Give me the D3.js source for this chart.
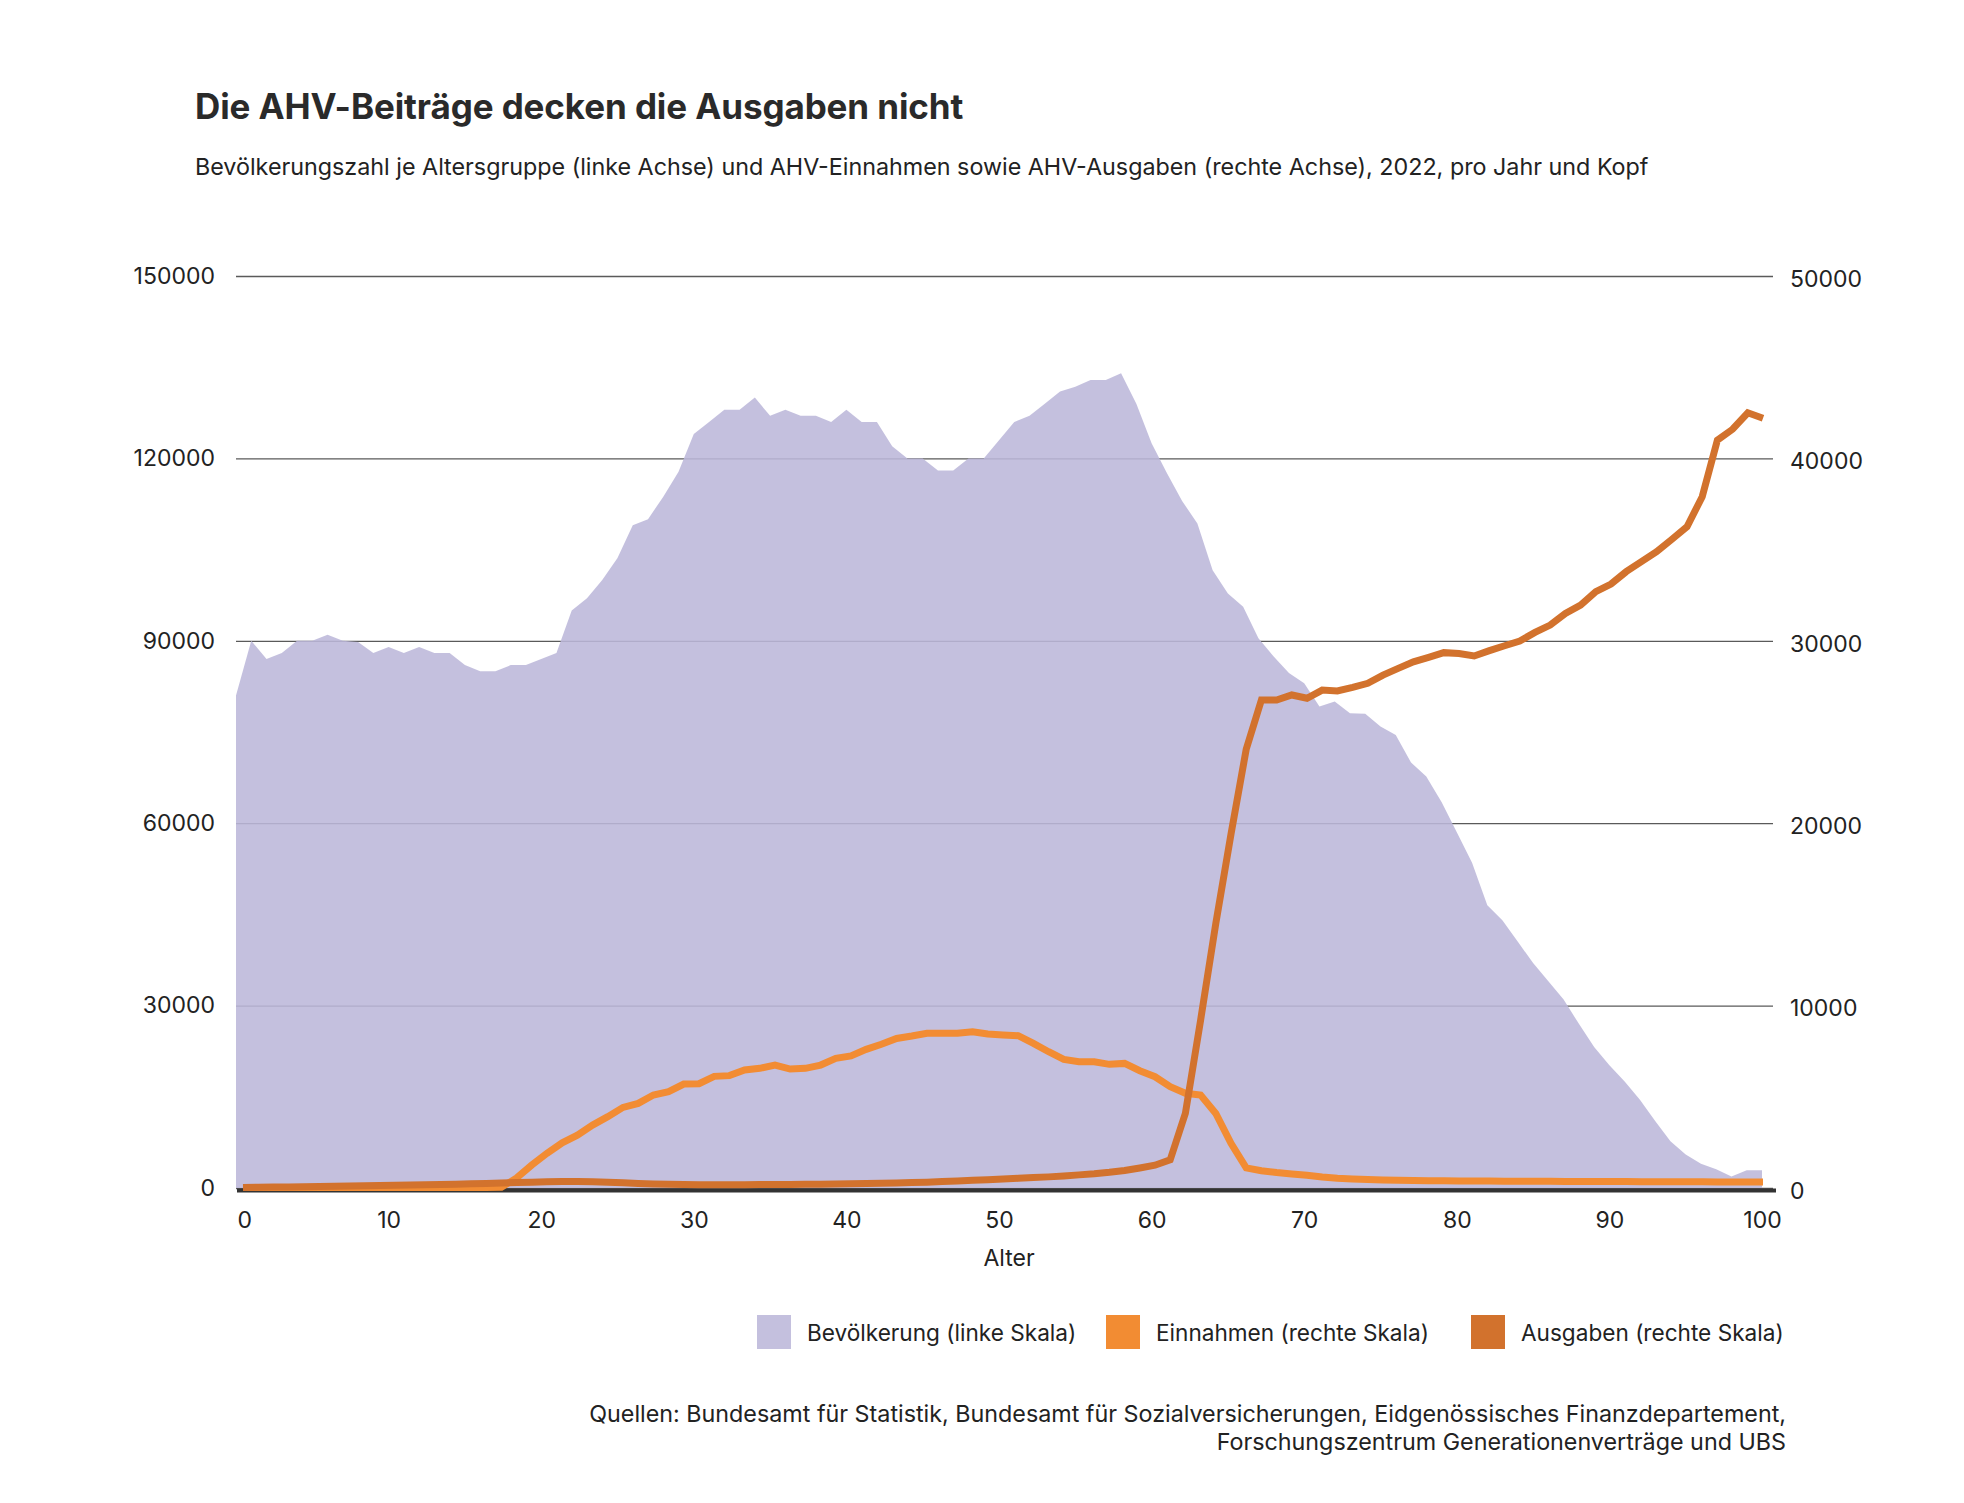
<!DOCTYPE html>
<meta charset="utf-8">
<script src="https://d3js.org/d3.v7.min.js"></script>
<style>
  body { margin: 0; background: #fff; }
  text { font-family: Inter, "Noto Sans", sans-serif; fill: #222; }
</style>
<div id="chart"></div>
<script>

// Alter 0..100
var ages = d3.range(0, 101);

// Bevölkerung je Altersjahr (linke Skala)
var bevoelkerung = [
  81000, 90000, 87000, 88000, 90000, 90000, 91000, 90000, 89800, 88000,
  89000, 88000, 89000, 88000, 88000, 86000, 85000, 85000, 86000, 86000,
  87000, 88000, 95000, 97000, 100000, 103600, 109000, 110000, 113700, 117800,
  124000, 126000, 128000, 128000, 130000, 127000, 128000, 127000, 127000, 126000,
  128000, 126000, 126000, 122000, 120000, 120000, 118000, 118000, 120000, 120000,
  123000, 126000, 127000, 129000, 131000, 131800, 132900, 132900, 134000, 129000,
  122500, 117600, 113000, 109300, 101600, 97800, 95600, 90400, 87400, 84700,
  83000, 79200, 80000, 78100, 78000, 75900, 74500, 70000, 67700, 63500,
  58500, 53500, 46500, 44000, 40500, 37000, 34000, 31000, 27000, 23200,
  20200, 17500, 14500, 11000, 7700, 5500, 4000, 3100, 1900, 2900,
  2900
];

// AHV-Einnahmen pro Kopf (rechte Skala)
var einnahmen = [
  30, 30, 30, 30, 30, 30, 30, 30, 30, 30,
  30, 30, 30, 30, 30, 30, 30, 40, 550, 1260,
  1900, 2480, 2900, 3450, 3910, 4420, 4640, 5100, 5280, 5700,
  5720, 6120, 6160, 6470, 6560, 6740, 6520, 6560, 6740, 7110,
  7240, 7600, 7880, 8200, 8330, 8480, 8480, 8480, 8570, 8440,
  8390, 8350, 7930, 7470, 7050, 6920, 6920, 6780, 6830, 6430,
  6100, 5550, 5190, 5100, 4090, 2450, 1100, 950, 850, 770,
  700, 600, 530, 490, 460, 440, 420, 410, 400, 400,
  390, 385, 380, 375, 370, 370, 365, 360, 360, 355,
  350, 350, 345, 345, 340, 340, 340, 335, 335, 330,
  330
];

// AHV-Ausgaben pro Kopf (rechte Skala)
var ausgaben = [
  30, 40, 50, 60, 70, 80, 95, 110, 120, 135,
  150, 165, 180, 195, 210, 230, 250, 270, 300, 320,
  340, 350, 350, 340, 320, 290, 250, 220, 200, 190,
  180, 180, 185, 185, 190, 190, 195, 200, 210, 220,
  230, 245, 260, 280, 300, 320, 350, 380, 420, 450,
  490, 530, 570, 610, 660, 720, 780, 860, 960, 1100,
  1250, 1550, 4100, 9200, 14500, 19400, 24050, 26750, 26750, 27030,
  26850, 27300, 27250, 27450, 27670, 28120, 28490, 28850, 29090, 29350,
  29300, 29170, 29460, 29730, 29990, 30460, 30860, 31500, 31960, 32690,
  33110, 33790, 34340, 34880, 35560, 36250, 37900, 41000, 41600, 42500,
  42200
];

var xTicks = [0, 10, 20, 30, 40, 50, 60, 70, 80, 90, 100];
var leftTicks = [0, 30000, 60000, 90000, 120000, 150000];
var rightTicks = [0, 10000, 20000, 30000, 40000, 50000];

var legendLabels = ["Bevölkerung (linke Skala)", "Einnahmen (rechte Skala)", "Ausgaben (rechte Skala)"];
var colors = { ein: "#f28c33", aus: "#d2722d" };

var W = 1964, H = 1503;

var svg = d3.select("#chart")
  .append("svg")
    .attr("width", W)
    .attr("height", H);

svg.append("rect").attr("width", W).attr("height", H).attr("fill", "#fff");

// titles
svg.append("text")
  .attr("x", 195).attr("y", 119)
  .attr("font-size", 35).attr("font-weight", 700)
  .attr("letter-spacing", -0.1)
  .style("fill", "#2a2a2a")
  .text("Die AHV-Beiträge decken die Ausgaben nicht");

svg.append("text")
  .attr("x", 195).attr("y", 175)
  .attr("font-size", 23.3)
  .text("Bevölkerungszahl je Altersgruppe (linke Achse) und AHV-Einnahmen sowie AHV-Ausgaben (rechte Achse), 2022, pro Jahr und Kopf");

// scales (the lines sit slightly right of the area in the original)
var xArea = d3.scaleLinear().domain([0, 100]).range([236, 1762]);
var xLine = d3.scaleLinear().domain([0, 100]).range([243, 1763]);
var yLeft = d3.scaleLinear().domain([0, 150000]).range([1188, 276]);
var yRight = d3.scaleLinear().domain([0, 50000]).range([1188, 276]);

var gridRight = 1773;

// left axis with gridlines
var gLeft = svg.append("g")
  .attr("transform", "translate(236,0)")
  .call(d3.axisLeft(yLeft)
    .tickValues(leftTicks)
    .tickFormat(d3.format("d"))
    .tickSize(-(gridRight - 236))
    .tickPadding(21));
gLeft.select(".domain").remove();
gLeft.selectAll("line").attr("stroke", "#5a5a5a").attr("stroke-width", 1.3);
gLeft.selectAll("text").attr("font-size", 23).style("font-family", "Inter, sans-serif");

// right axis labels
var gRight = svg.append("g")
  .attr("transform", "translate(" + gridRight + ",0)")
  .call(d3.axisRight(yRight)
    .tickValues(rightTicks)
    .tickFormat(d3.format("d"))
    .tickSize(0)
    .tickPadding(17));
gRight.select(".domain").remove();
gRight.selectAll("text").attr("font-size", 23).attr("dy", "0.45em").style("font-family", "Inter, sans-serif");

// population area
svg.append("path")
  .datum(ages)
  .attr("fill", "#bcb7da")
  .attr("fill-opacity", 0.88)
  .attr("d", d3.area()
    .x(function(d) { return xArea(d); })
    .y0(yLeft(0))
    .y1(function(d) { return yLeft(bevoelkerung[d]); }));

// baseline
svg.append("line")
  .attr("x1", 237).attr("x2", 1776)
  .attr("y1", yLeft(0) + 2.5).attr("y2", yLeft(0) + 2.5)
  .attr("stroke", "#333").attr("stroke-width", 4);

// x axis labels
var gX = svg.append("g")
  .attr("transform", "translate(0," + yLeft(0) + ")")
  .call(d3.axisBottom(xArea)
    .tickValues(xTicks)
    .tickSize(0)
    .tickPadding(24));
gX.select(".domain").remove();
gX.selectAll("text").attr("font-size", 23).style("font-family", "Inter, sans-serif");
gX.selectAll("text").filter(function(d) { return d === 0; })
  .attr("text-anchor", "start").attr("x", 1);

svg.append("text")
  .attr("x", 1009).attr("y", 1266)
  .attr("text-anchor", "middle")
  .attr("font-size", 23)
  .text("Alter");

// lines
svg.append("path")
  .datum(ages)
  .attr("fill", "none")
  .attr("stroke", colors.ein)
  .attr("stroke-width", 7)
  .attr("d", d3.line()
    .x(function(d) { return xLine(d); })
    .y(function(d) { return yRight(einnahmen[d]); }));

svg.append("path")
  .datum(ages)
  .attr("fill", "none")
  .attr("stroke", colors.aus)
  .attr("stroke-width", 7)
  .attr("d", d3.line()
    .x(function(d) { return xLine(d); })
    .y(function(d) { return yRight(ausgaben[d]); }));

// legend
var legendColors = ["#c4c0de", colors.ein, colors.aus];
var legendSquareX = [757, 1106, 1471];
var legend = svg.append("g");
legendLabels.forEach(function(lbl, i) {
  legend.append("rect")
    .attr("x", legendSquareX[i]).attr("y", 1315)
    .attr("width", 34).attr("height", 34)
    .attr("fill", legendColors[i]);
  legend.append("text")
    .attr("x", legendSquareX[i] + 50).attr("y", 1341)
    .attr("font-size", 22.6)
    .text(lbl);
});

// source
svg.append("text")
  .attr("x", 1786).attr("y", 1422)
  .attr("text-anchor", "end")
  .attr("font-size", 23.3)
  .text("Quellen: Bundesamt für Statistik, Bundesamt für Sozialversicherungen, Eidgenössisches Finanzdepartement,");
svg.append("text")
  .attr("x", 1786).attr("y", 1450)
  .attr("text-anchor", "end")
  .attr("font-size", 23.3)
  .text("Forschungszentrum Generationenverträge und UBS");

</script>
